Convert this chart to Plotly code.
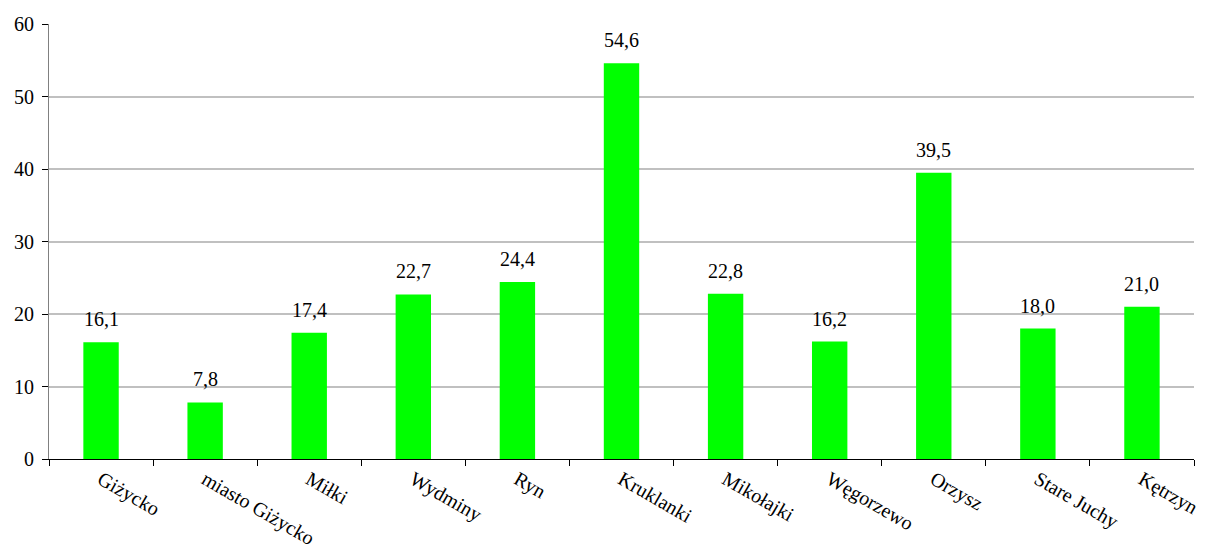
import plotly.graph_objects as go

categories = ["Giżycko", "miasto Giżycko", "Miłki", "Wydminy", "Ryn", "Kruklanki",
              "Mikołajki", "Węgorzewo", "Orzysz", "Stare Juchy", "Kętrzyn"]
values = [16.1, 7.8, 17.4, 22.7, 24.4, 54.6, 22.8, 16.2, 39.5, 18.0, 21.0]
y_ticks = [0, 10, 20, 30, 40, 50, 60]

font_family = "Liberation Serif, DejaVu Serif"
font_size = 20

fig = go.Figure(
    go.Bar(
        x=categories,
        y=values,
        marker=dict(color="#00FF00", line=dict(width=0)),
        width=0.34,
        cliponaxis=False,
    )
)

# value labels above each bar, with comma as decimal separator
for cat, val in zip(categories, values):
    fig.add_annotation(
        x=cat,
        y=val,
        text=f"{val:.1f}".replace(".", ","),
        showarrow=False,
        yanchor="bottom",
        yshift=10,
        font=dict(family=font_family, size=font_size, color="black"),
    )

fig.update_layout(
    width=1205,
    height=544,
    margin=dict(l=49, r=11, t=24, b=85),
    paper_bgcolor="white",
    plot_bgcolor="white",
    showlegend=False,
    font=dict(family=font_family, size=font_size, color="black"),
)

fig.update_xaxes(
    type="category",
    tickangle=30,
    tickson="boundaries",
    ticks="outside",
    ticklen=6,
    tickcolor="black",
    showline=True,
    linecolor="black",
    linewidth=1,
    showgrid=False,
    automargin=False,
    tickfont=dict(family=font_family, size=font_size, color="black"),
)

fig.update_yaxes(
    range=[0, 60],
    tickvals=y_ticks,
    ticks="outside",
    ticklen=6,
    tickcolor="black",
    ticklabelstandoff=4,
    showline=True,
    linecolor="#808080",
    linewidth=1,
    showgrid=True,
    gridcolor="#C0C0C0",
    gridwidth=2,
    zeroline=False,
    automargin=False,
    tickfont=dict(family=font_family, size=font_size, color="black"),
)

fig.write_html("out.html")
